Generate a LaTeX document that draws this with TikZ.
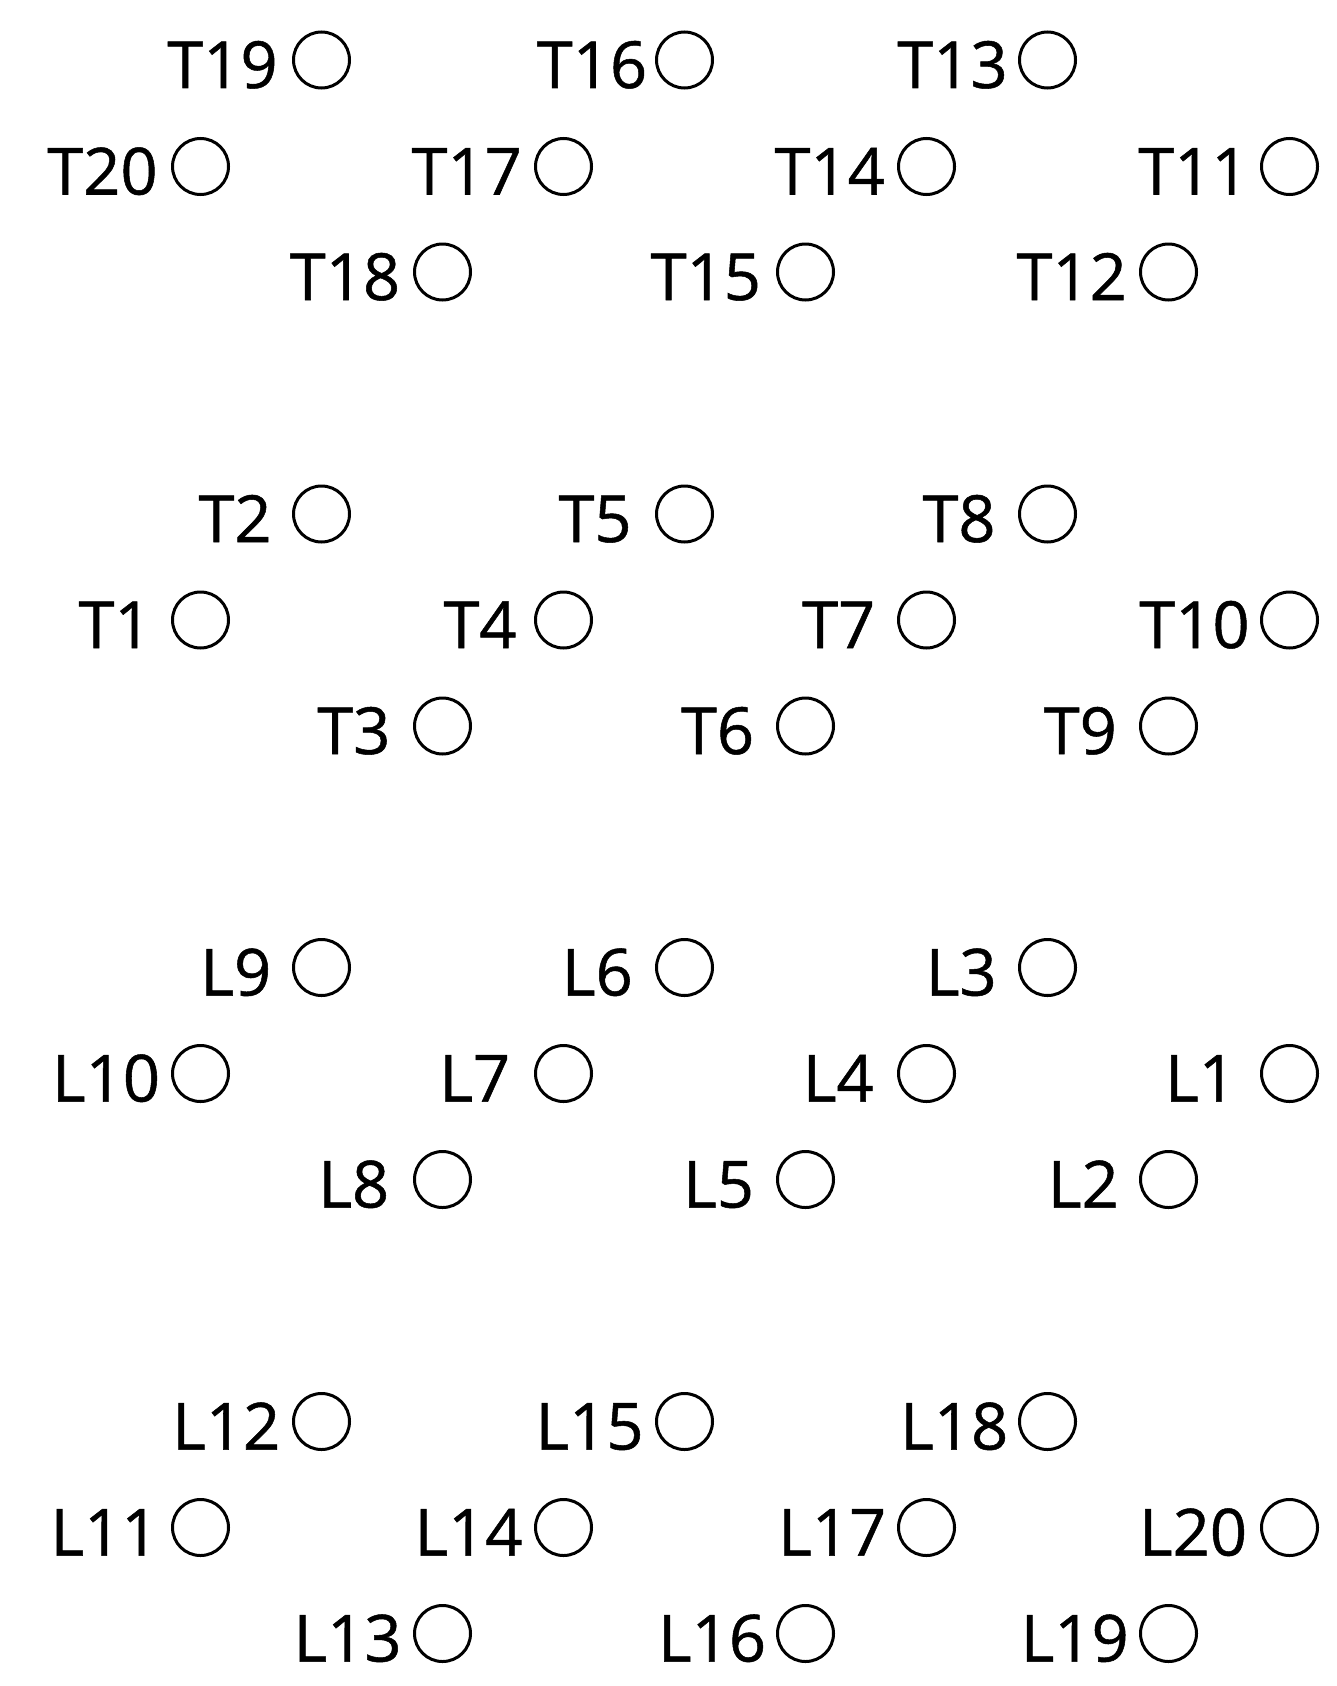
\documentclass[tikz,border=0pt]{standalone}
\usepackage{fontspec}
\setmainfont{Open Sans}
\newfontfamily\lblfont{Open Sans}[FakeBold=0.8]
\begin{document}
\begin{tikzpicture}[x=1pt,y=1pt,
  lbl/.style={anchor=base,inner sep=0pt,font=\lblfont\fontsize{65}{78}\selectfont},
  pin/.style={draw,circle,line width=3pt,minimum size=56pt,inner sep=0pt}]
\useasboundingbox (0,0) rectangle (1336,-1686);
\foreach \n/\c/\y/\dx in {
  T19/2/60/-99, T16/5/60/-92.5, T13/8/60/-95,
  T20/1/166.5/-98, T17/4/166.5/-96.8, T14/7/166.5/-96.8, T11/10/166.5/-96,
  T18/3/272/-97.5, T15/6/272/-99.7, T12/9/272/-96.8,
  T2/2/514/-86.5, T5/5/514/-89.5, T8/8/514/-88.5,
  T1/1/620/-85.5, T4/4/620/-83.5, T7/7/620/-87.8, T10/10/620/-95,
  T3/3/726/-88.7, T6/6/726/-88, T9/9/726/-88.2,
  L9/2/967.5/-85.7, L6/5/967.5/-87.2, L3/8/967.5/-86.3,
  L10/1/1073.5/-94.5, L7/4/1073.5/-88.8, L4/7/1073.5/-88.2, L1/10/1073.5/-89,
  L8/3/1179.5/-88.8, L5/6/1179.5/-87, L2/9/1179.5/-85.2,
  L12/2/1421.5/-95.3, L15/5/1421.5/-95, L18/8/1421.5/-93.3,
  L11/1/1527.5/-96, L14/4/1527.5/-95, L17/7/1527.5/-94.3, L20/10/1527.5/-96.5,
  L13/3/1633.5/-95, L16/6/1633.5/-93.5, L19/9/1633.5/-93.8}{
  \pgfmathsetmacro\xx{200.5+121*(\c-1)}
  \node[pin] (c\n) at (\xx,-\y) {};
  \node[lbl] (l\n) at ({\xx+(\dx)},{-\y-28}) {\n};
}
\end{tikzpicture}
\end{document}
